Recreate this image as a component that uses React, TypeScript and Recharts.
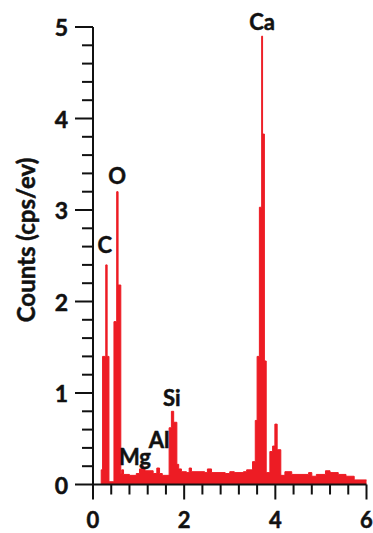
import React from 'react';
import {
  AreaChart,
  Area,
  XAxis,
  YAxis,
  ReferenceDot,
  Label,
} from 'recharts';

// spectrum as steps: energy (keV) where a level starts, and its count rate
const energy = [
  0.0, 0.18, 0.21, 0.28, 0.31, 0.35, 0.46, 0.52, 0.55, 0.61, 0.63, 0.67,
  0.8, 0.95, 1.02, 1.06, 1.1, 1.14, 1.32, 1.4, 1.46, 1.52, 1.67, 1.72, 1.77,
  1.84, 1.88, 1.94, 2.05, 2.11, 2.16, 2.45, 2.51, 2.6, 2.9, 3.0, 3.1, 3.3,
  3.37, 3.5, 3.56, 3.6, 3.65, 3.7, 3.72, 3.76, 3.8, 3.88, 3.94, 3.99, 4.04,
  4.12, 4.21, 4.36, 4.73, 4.8, 4.9, 5.1, 5.2, 5.38, 5.55, 5.73, 6.0,
];
const counts = [
  0, 0.16, 1.4, 2.4, 1.4, 0.03, 1.78, 3.2, 2.18, 0.12, 0.16, 0.11,
  0.1, 0.12, 0.17, 0.21, 0.18, 0.15, 0.12, 0.18, 0.12, 0.1, 0.62, 0.8, 0.68,
  0.22, 0.17, 0.14, 0.13, 0.18, 0.14, 0.13, 0.17, 0.13, 0.12, 0.14, 0.13, 0.14,
  0.16, 0.25, 0.7, 1.4, 3.03, 4.9, 3.83, 1.35, 0.13, 0.36, 0.42, 0.66, 0.38,
  0.1, 0.14, 0.11, 0.13, 0.09, 0.11, 0.15, 0.13, 0.11, 0.09, 0.05, 0.05,
];

// element labels
const elements = ['C', 'O', 'Mg', 'Al', 'Si', 'Ca'];
const elementX = [0.26, 0.53, 0.92, 1.45, 1.73, 3.71];
const elementY = [2.62, 3.38, 0.31, 0.49, 0.95, 5.06];

const xTicks = [0, 0.4, 0.8, 1.2, 1.6, 2, 2.4, 2.8, 3.2, 3.6, 4, 4.4, 4.8, 5.2, 5.6, 6];
const yTicks = [
  0, 0.2, 0.4, 0.6, 0.8, 1, 1.2, 1.4, 1.6, 1.8, 2, 2.2, 2.4, 2.6, 2.8, 3,
  3.2, 3.4, 3.6, 3.8, 4, 4.2, 4.4, 4.6, 4.8, 5,
];

const data = energy.map((e, i) => ({ e, v: counts[i] }));

const RED = '#ed1c24';
const INK = '#111';
const FONT = 'Lato, "Open Sans", sans-serif';
// the original text is a heavy Calibri bold, thicken it a bit
const textStyle = {
  fill: INK,
  stroke: INK,
  strokeWidth: 0.5,
  fontWeight: 700,
  fontFamily: FONT,
};

const isMajor = (v: number) => Math.abs(v - Math.round(v / 2) * 2) < 1e-6;
const isWhole = (v: number) => Math.abs(v - Math.round(v)) < 1e-6;

const XTick = ({ x, y, payload }: any) => {
  const major = isMajor(payload.value);
  return (
    <g>
      <line x1={x} x2={x} y1={y} y2={y + (major ? 15 : 10)} stroke={INK} strokeWidth={2} />
      {major && (
        <text x={x} y={y + 35} textAnchor="middle" dominantBaseline="central"
          fontSize={22} {...textStyle}>
          {Math.round(payload.value)}
        </text>
      )}
    </g>
  );
};

const YTick = ({ x, y, payload }: any) => {
  const major = isWhole(payload.value);
  return (
    <g>
      <line x1={x - (major ? 18 : 11)} x2={x} y1={y} y2={y} stroke={INK} strokeWidth={2} />
      {major && (
        <text x={x - 25} y={y} textAnchor="end" dominantBaseline="central"
          fontSize={23} {...textStyle}>
          {Math.round(payload.value)}
        </text>
      )}
    </g>
  );
};

const ElementLabel = (name: string) => (props: any) => (
  <text x={props.cx} y={props.cy} textAnchor="middle" dominantBaseline="central"
    fontSize={22} {...textStyle}>
    {name}
  </text>
);

export default function App() {
  return (
    <div style={{ position: 'fixed', left: 0, top: 0, background: '#fff' }}>
      <AreaChart
        width={373}
        height={533}
        data={data}
        margin={{ top: 27, right: 6.5, bottom: 0.5, left: 0 }}
      >
        <XAxis
          dataKey="e"
          type="number"
          domain={[0, 6]}
          ticks={xTicks}
          interval={0}
          height={48}
          tickSize={0}
          tickMargin={0}
          tickLine={false}
          axisLine={{ stroke: INK, strokeWidth: 2 }}
          tick={<XTick />}
        />
        <YAxis
          type="number"
          domain={[0, 5]}
          ticks={yTicks}
          interval={0}
          width={93}
          tickSize={0}
          tickMargin={0}
          tickLine={false}
          axisLine={{ stroke: INK, strokeWidth: 2 }}
          tick={<YTick />}
        >
          <Label
            content={() => (
              <text x={25} y={240} transform="rotate(-90, 25, 240)" textAnchor="middle"
                dominantBaseline="central" fontSize={24} {...textStyle}>
                Counts (cps/ev)
              </text>
            )}
          />
        </YAxis>
        <Area
          type="stepAfter"
          dataKey="v"
          stroke={RED}
          strokeWidth={1}
          fill={RED}
          fillOpacity={1}
          isAnimationActive={false}
        />
        {elements.map((name, i) => (
          <ReferenceDot
            key={name}
            x={elementX[i]}
            y={elementY[i]}
            r={0}
            ifOverflow="visible"
            shape={ElementLabel(name)}
          />
        ))}
      </AreaChart>
    </div>
  );
}
